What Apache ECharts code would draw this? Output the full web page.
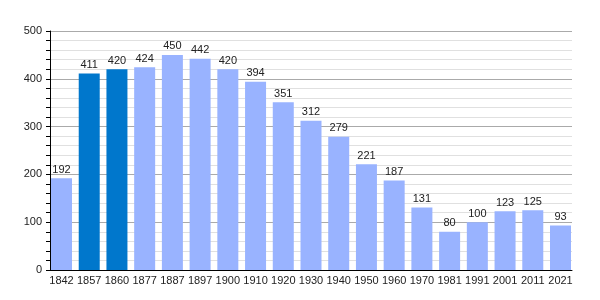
<!DOCTYPE html>
<html><head><meta charset="utf-8">
<script src="https://cdn.jsdelivr.net/npm/echarts@6/dist/echarts.min.js"></script>
<style>html,body{margin:0;padding:0;background:#fff}#c{width:600px;height:300px}</style>
</head><body><div id="c"></div>
<script>
var years = ['1842','1857','1860','1877','1887','1897','1900','1910','1920','1930','1940','1950','1960','1970','1981','1991','2001','2011','2021'];
var population = [192,411,420,424,450,442,420,394,351,312,279,221,187,131,80,100,123,125,93];
var highlighted = ['1857','1860'];
var yTicks = [0,100,200,300,400,500];
var font = 'Liberation Sans, Arial, sans-serif';

var chart = echarts.init(document.getElementById('c'), null, {renderer:'canvas'});
chart.setOption({
  animation:false,
  grid:[
    {left:50,right:28,top:31,bottom:30,containLabel:false},
    {left:47.64,right:25.64,top:31,bottom:30,containLabel:false}
  ],
  xAxis:[
    {gridIndex:0,type:'value',min:0,max:1,
      axisLine:{show:true,onZero:false,lineStyle:{color:'#000',width:1}},
      axisTick:{show:false},axisLabel:{show:false},splitLine:{show:false}},
    {gridIndex:1,type:'category',data:years,
      axisLine:{show:false},
      axisTick:{show:false},
      axisLabel:{color:'#222',fontSize:11,fontFamily:font,margin:5,interval:0}}
  ],
  yAxis:[
    {gridIndex:0,type:'value',min:yTicks[0],max:yTicks[yTicks.length-1],interval:100,
      axisLine:{show:true,lineStyle:{color:'#000'}},
      axisTick:{show:true,length:4,lineStyle:{color:'#000'}},
      minorTick:{show:true,splitNumber:5,length:4,lineStyle:{color:'#000'}},
      splitLine:{show:true,lineStyle:{color:'#aaaaaa',width:1}},
      minorSplitLine:{show:true,lineStyle:{color:'#e0e0e0',width:1}},
      axisLabel:{color:'#222',fontSize:11,fontFamily:font,margin:8}},
    {gridIndex:1,type:'value',min:yTicks[0],max:yTicks[yTicks.length-1],show:false,
      splitLine:{show:false}}
  ],
  series:[{type:'bar',xAxisIndex:1,yAxisIndex:1,barWidth:21,
    data:population.map(function(v,i){return {value:v,itemStyle:{color:highlighted.indexOf(years[i])>=0?'#0077cc':'#99b3ff'}};}),
    label:{show:true,position:'top',distance:3,color:'#222',fontSize:11,fontFamily:font}}]
});
</script></body></html>
